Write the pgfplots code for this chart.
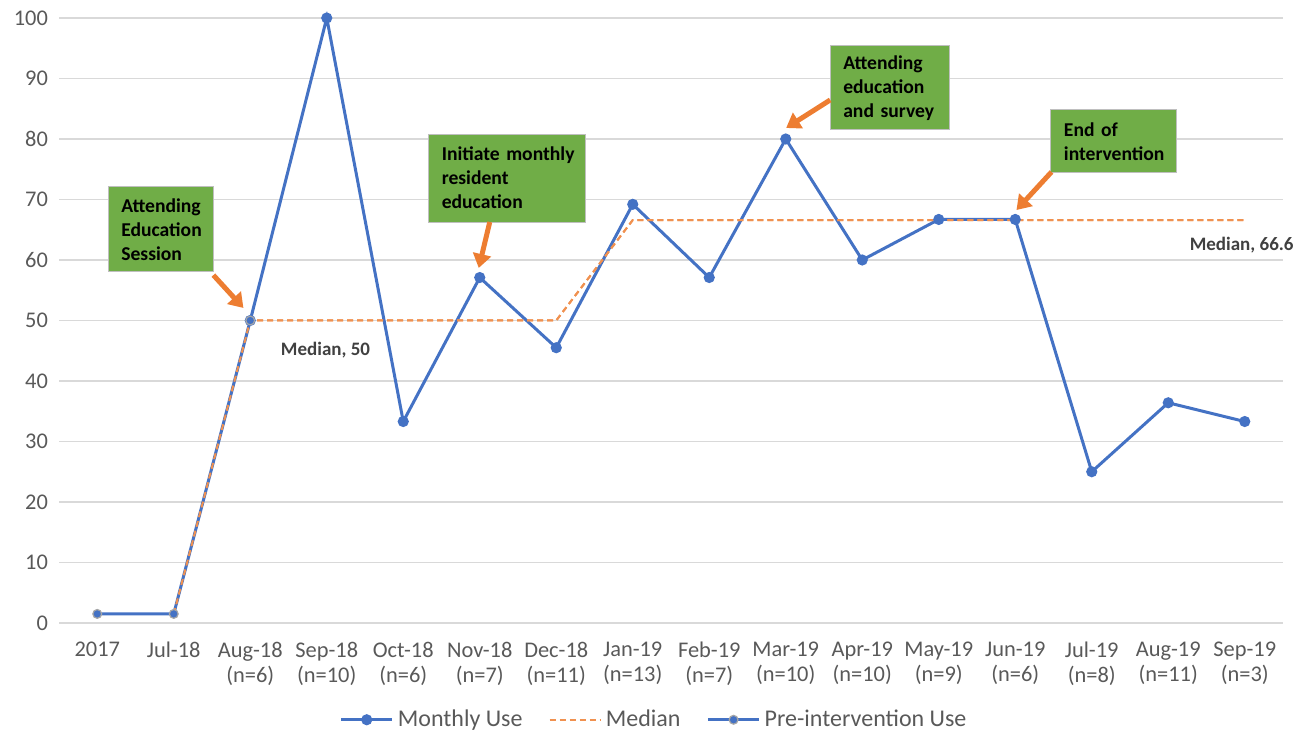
\documentclass[border=0pt]{standalone}
\usepackage{pgfplots}
\pgfplotsset{compat=1.18}
\usepackage{fontspec}
\setmainfont{Carlito}
\usetikzlibrary{arrows.meta}
\definecolor{xblue}{HTML}{4472C4}
\definecolor{xorange}{HTML}{ED7D31}
\definecolor{xgreen}{HTML}{70AD47}
\definecolor{xgrid}{HTML}{D9D9D9}
\definecolor{xtext}{HTML}{595959}
\definecolor{xdark}{HTML}{404040}
\begin{document}
\begin{tikzpicture}
\useasboundingbox (-29.5pt,-54pt) rectangle (624pt,311.5pt);
\begin{axis}[
  scale only axis,
  width=612pt, height=302.5pt,
  xmin=-0.5, xmax=15.5, ymin=0, ymax=100,
  axis line style={draw=none},
  axis x line*=bottom,
  tick style={draw=none},
  ytick={0,10,...,100},
  ymajorgrids, grid style={xgrid, line width=0.75pt},
  xtick={0,...,15},
  xticklabels={2017,Jul-18,Aug-18\\(n=6),Sep-18\\(n=10),Oct-18\\(n=6),Nov-18\\(n=7),Dec-18\\(n=11),Jan-19\\(n=13),Feb-19\\(n=7),Mar-19\\(n=10),Apr-19\\(n=10),May-19\\(n=9),Jun-19\\(n=6),Jul-19\\(n=8),Aug-19\\(n=11),Sep-19\\(n=3)},
  xticklabel style={align=center, font=\fontsize{11.2}{12.5}\selectfont, text=xtext, yshift=-6pt},
  yticklabel style={font=\fontsize{11.2}{13}\selectfont, text=xtext, xshift=-2pt},
  /pgf/number format/assume math mode=true,
  clip=false,
  legend image code/.code={\draw[mark repeat=2,mark phase=2] plot coordinates {(0cm,0cm) (0.45cm,0cm) (0.9cm,0cm)};},
  legend style={at={(0.5,-54pt)}, anchor=south, yshift=-3.5pt, xshift=-8pt, draw=none, fill=none,
    legend columns=3, font=\fontsize{12}{14}\selectfont, text=xtext,
    /tikz/every even column/.append style={column sep=11pt}},
  legend cell align=left,
]
\addplot[xblue, line width=1.5pt, mark=*, mark size=2pt, mark options={fill=xblue, draw=xblue}]
  coordinates {(2,50) (3,100) (4,33.3) (5,57.1) (6,45.5) (7,69.2) (8,57.1) (9,80) (10,60) (11,66.7) (12,66.7) (13,25) (14,36.4) (15,33.3)};
\addlegendentry{Monthly Use}
\addplot[xorange!85, line width=1pt, dash pattern=on 3pt off 2pt]
  coordinates {(1,1.5) (2,50) (3,50) (4,50) (5,50) (6,50) (7,66.6) (8,66.6) (9,66.6) (10,66.6) (11,66.6) (12,66.6) (13,66.6) (14,66.6) (15,66.6)};
\addlegendentry{Median}
\addplot[xblue, line width=1.5pt, mark=*, mark size=2.2pt, mark options={fill=xblue, draw=gray!70, line width=0.6pt}]
  coordinates {(0,1.5) (1,1.5) (2,50)};
\addlegendentry{Pre-intervention Use}
\addplot[xorange!85, line width=1pt, dash pattern=on 3pt off 2pt, forget plot]
  coordinates {(1,1.5) (2,50) (3,50) (4,50) (5,50) (6,50) (7,66.6) (8,66.6) (9,66.6) (10,66.6) (11,66.6) (12,66.6) (13,66.6) (14,66.6) (15,66.6)};

% annotation boxes
\tikzset{abox/.style={fill=xgreen, draw=gray!50, line width=0.5pt, font=\fontsize{9.8}{12}\selectfont\bfseries, text=black, align=left, inner xsep=6.5pt},
         aarrow/.style={xorange, line width=2.5pt, -{Triangle[length=7pt,width=9pt]}}}
\node[abox, minimum width=52.5pt, minimum height=42.5pt, text width=39.5pt] at (axis cs:0.831,65.04) {\mbox{Attending}\\\mbox{Education}\\\mbox{Session}};
\node[abox, minimum width=78.5pt, minimum height=44pt, text width=65.5pt] at (axis cs:5.36,73.55) {\mbox{Initiate monthly}\\\mbox{resident}\\\mbox{education}};
\node[abox, minimum width=59.5pt, minimum height=42pt, text width=46.5pt] at (axis cs:10.36,88.43) {\mbox{Attending}\\\mbox{education}\\\mbox{and survey}};
\node[abox, minimum width=63pt, minimum height=31.5pt, text width=50pt] at (axis cs:13.29,79.59) {\mbox{End of}\\\mbox{intervention}};
\draw[aarrow] (axis cs:1.518,57.5) -- (axis cs:1.911,52.07);
\draw[aarrow] (axis cs:5.131,66.28) -- (axis cs:4.987,58.68);
\draw[aarrow] (axis cs:9.581,86.45) -- (axis cs:9.005,81.82);
\draw[aarrow] (axis cs:12.474,74.55) -- (axis cs:12.016,68.26);
\node[font=\fontsize{9.5}{11}\selectfont\bfseries, text=xdark] at (axis cs:2.984,45.12) {Median, 50};
\node[font=\fontsize{9.5}{11}\selectfont\bfseries, text=xdark] at (axis cs:14.96,62.48) {Median, 66.6};
\end{axis}
\end{tikzpicture}
\end{document}
